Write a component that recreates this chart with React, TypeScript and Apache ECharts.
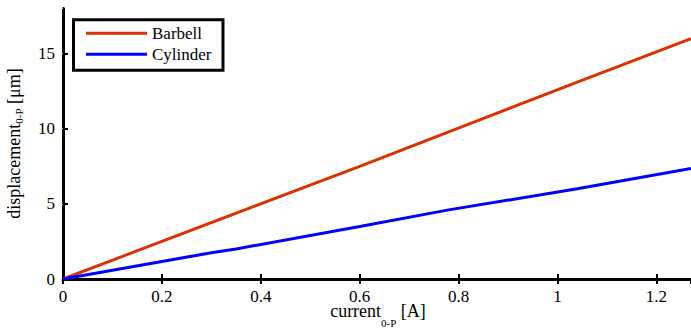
import React, { useEffect, useRef } from 'react';
import * as echarts from 'echarts';

const seriesNames = ['Barbell', 'Cylinder'];
const barbellX = [0, 0.14, 0.6, 1.04, 1.27];
const barbellY = [0, 1.75, 7.5, 13.1, 16.0];
const cylinderX = [0, 0.3, 0.35, 0.6, 0.78, 1.04, 1.27];
const cylinderY = [0, 1.75, 2.0, 3.5, 4.6, 6.0, 7.35];
const xTickLabels = ['0', '0.2', '0.4', '0.6', '0.8', '1', '1.2'];
const yTickLabels = ['0', '5', '10', '15'];
const xLabelMain = 'current';
const yLabelMain = 'displacement';
const labelSub = '0-P';
const xUnit = ' [A]';
const yUnit = ' [μm]';

const FONT = 'Liberation Serif';

export default function App() {
  const ref = useRef<HTMLDivElement>(null);
  useEffect(() => {
    if (!ref.current) return;
    const chart = echarts.init(ref.current, undefined, { renderer: 'svg' });
    const mkRich = (subLH: number) => ({
      a: { fontFamily: FONT, fontSize: 18, lineHeight: 18, verticalAlign: 'top', fill: '#000' },
      s: { fontFamily: FONT, fontSize: 11, lineHeight: subLH, verticalAlign: 'middle', fill: '#000' },
    });
    const axisLine = { show: true, lineStyle: { color: '#000', width: 3 } };
    const axisTick = { show: true, inside: true, length: 5, lineStyle: { color: '#000', width: 2 } };
    const fmtX = (v: number) => {
      const idx = Math.round(v / 0.2);
      return Math.abs(idx * 0.2 - v) < 1e-6 ? xTickLabels[idx] ?? '' : '';
    };
    const fmtY = (v: number) => {
      const idx = Math.round(v / 5);
      return Math.abs(idx * 5 - v) < 1e-6 ? yTickLabels[idx] ?? '' : '';
    };
    chart.setOption({
      animation: false,
      backgroundColor: '#fff',
      textStyle: { fontFamily: FONT, color: '#000' },
      grid: { left: 63, right: 0, top: 8.5, bottom: 53, containLabel: false },
      xAxis: [
        {
          type: 'value', min: 0, max: 1.27, interval: 0.2, position: 'bottom',
          axisLine, axisTick,
          axisLabel: { color: '#000', fontFamily: FONT, fontSize: 17, margin: 9, formatter: fmtX, showMaxLabel: false },
          splitLine: { show: false },
        },
        {
          type: 'value', min: 0, max: 1.27, interval: 0.2, position: 'top',
          axisLine, axisTick, axisLabel: { show: false }, splitLine: { show: false },
        },
      ],
      yAxis: [
        {
          type: 'value', min: 0, max: 18, interval: 5, position: 'left',
          axisLine, axisTick,
          axisLabel: { color: '#000', fontFamily: FONT, fontSize: 17, margin: 8, formatter: fmtY, showMaxLabel: false },
          splitLine: { show: false },
        },
        {
          type: 'value', min: 0, max: 18, interval: 5, position: 'right',
          axisLine: { show: false },
          axisTick: { show: true, inside: true, length: 2, lineStyle: { color: '#c8c8c8', width: 1 } },
          axisLabel: { show: false }, splitLine: { show: false },
        },
      ],
      legend: {
        orient: 'vertical', left: 73.5, top: 19.8,
        padding: [4, 11.5, 6.5, 12.5], itemGap: 2,
        itemWidth: 61, itemHeight: 3, icon: 'rect',
        borderColor: '#000', borderWidth: 3, backgroundColor: '#fff',
        textStyle: { fontFamily: FONT, fontSize: 17, color: '#000', lineHeight: 19 },
        data: seriesNames,
      },
      series: [
        {
          name: seriesNames[0], type: 'line', showSymbol: false, color: '#DA3300',
          lineStyle: { width: 3, color: '#DA3300' },
          data: barbellX.map((x, i) => [x, barbellY[i]]),
        },
        {
          name: seriesNames[1], type: 'line', showSymbol: false, color: '#0000FF',
          lineStyle: { width: 3, color: '#0000FF' },
          data: cylinderX.map((x, i) => [x, cylinderY[i]]),
        },
      ],
      graphic: [
        {
          type: 'text', x: 378, y: 302,
          style: {
            text: `{a|${xLabelMain}}{s|${labelSub}}{a|${xUnit}}`,
            rich: mkRich(42), align: 'center', verticalAlign: 'top',
          },
        },
        {
          type: 'text', x: 5, y: 143.5, rotation: Math.PI / 2,
          style: {
            text: `{a|${yLabelMain}}{s|${labelSub}}{a|${yUnit}}`,
            rich: mkRich(28), align: 'center', verticalAlign: 'top',
          },
        },
      ],
    });
    return () => chart.dispose();
  }, []);
  return (
    <div style={{ position: 'fixed', left: 0, top: 0, width: 691, height: 332, background: '#fff' }}>
      <div ref={ref} style={{ width: 691, height: 332 }} />
    </div>
  );
}
